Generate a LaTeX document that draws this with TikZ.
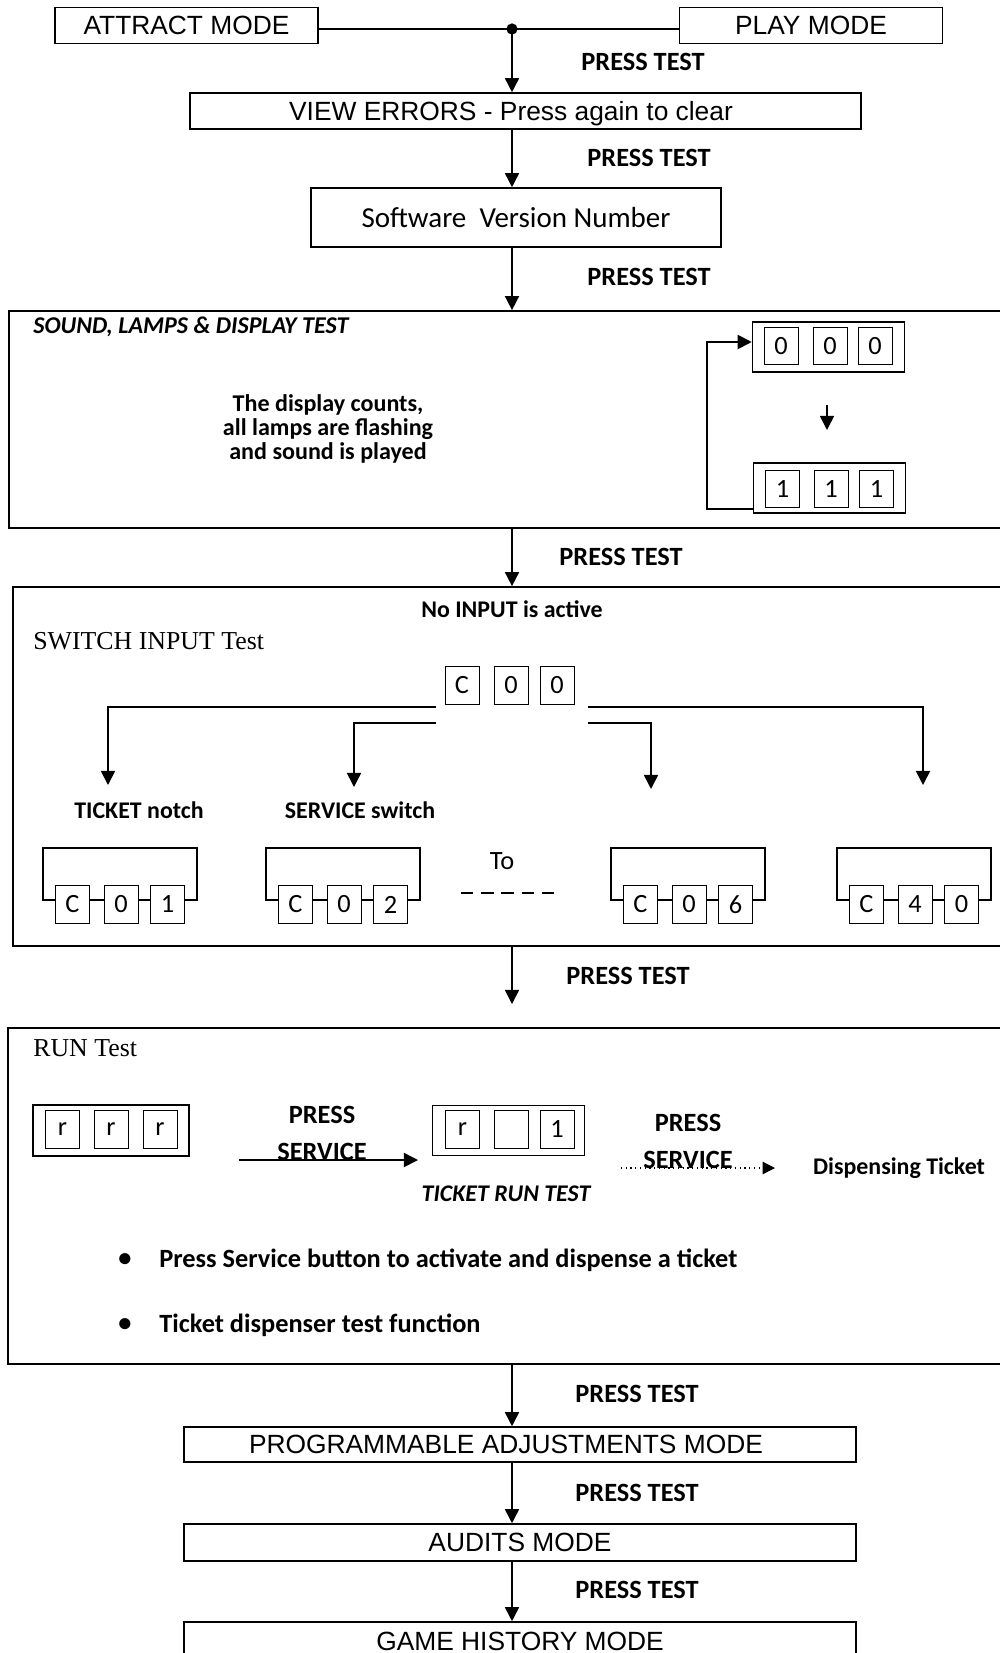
\documentclass[tikz,border=0pt]{standalone}
\usepackage{fontspec}
\setmainfont{Carlito}
\newfontfamily\arialfont{Liberation Sans}
\newfontfamily\serifttl{Liberation Serif}
\usetikzlibrary{arrows.meta, positioning}
\begin{document}
\begin{tikzpicture}[>={Triangle[length=8pt,width=8pt]}, x=0.02cm, y=-0.02cm,
modebox/.style={draw, line width=0.9pt, inner sep=0pt, font=\arialfont\fontsize{15}{18}\selectfont},
modetxt/.style={inner sep=0pt, font=\arialfont\fontsize{15}{18}\selectfont},
bigbox/.style={draw, line width=1pt, inner sep=0pt},
dispbox/.style={draw, line width=0.9pt, inner sep=0pt, minimum width=3.04cm, minimum height=1cm},
digit/.style={draw, fill=white, line width=0.5pt, inner sep=0pt, minimum width=0.68cm, minimum height=0.75cm, font=\fontsize{15}{18}\selectfont},
framebox/.style={draw, line width=0.8pt, inner sep=0pt, minimum width=3.08cm, minimum height=1.04cm},
presslbl/.style={inner sep=0pt, font=\bfseries\fontsize{15}{18}\selectfont},
smalllbl/.style={inner sep=0pt, font=\bfseries\fontsize{13.6}{16}\selectfont},
ttllbl/.style={anchor=west, inner sep=0pt, font=\serifttl\fontsize{14.7}{17}\selectfont},
flow/.style={->, line width=0.9pt}]
\useasboundingbox (0,0) rectangle (1000,1653);
\node[modebox, minimum width=5.26cm, minimum height=0.72cm] (attract) at (186.5,25.5) {ATTRACT MODE};
\node[modebox, minimum width=5.26cm, minimum height=0.72cm] (play) at (811,25.5) {PLAY MODE};
\coordinate (jn) at (512,29);
\draw[line width=0.9pt] (attract.east |- jn) -- (play.west |- jn);
\fill (jn) circle (3.2pt);
\node[modebox, minimum width=13.42cm, minimum height=0.72cm] (view) at (525.5,111) {};
\node[modetxt] (viewtxt) at (511,114) {VIEW ERRORS - Press again to clear};
\node[modebox, minimum width=8.2cm, minimum height=1.18cm, font=\fontsize{16.5}{19}\selectfont] (soft) at (516,217.5) {Software\ \ Version Number};
\draw[flow] (jn) -- (view.north -| jn);
\draw[flow] (view.south -| jn) -- (soft.north -| jn);
\node[presslbl] (pt1) at (643,62) {PRESS TEST};
\node[presslbl] (pt2) at (649,158) {PRESS TEST};
\node[presslbl] (pt3) at (649,277) {PRESS TEST};
\node[bigbox, minimum width=20.06cm, minimum height=4.34cm] (sound) at (510.5,419.5) {};
\draw[flow] (soft.south -| jn) -- (sound.north -| jn);
\node[anchor=west, inner sep=0pt, font=\bfseries\itshape\fontsize{13.7}{16}\selectfont] (soundttl) at (33,327) {SOUND, LAMPS \& DISPLAY TEST};
\node[smalllbl, align=center, font=\bfseries\fontsize{13.7}{13.8}\selectfont] (soundtxt) at (328,429) {The display counts,\\all lamps are flashing\\and sound is played};
\node[dispbox] (zero) at (828.5,347) {};
\foreach \x [count=\i] in {781,830,875} \node[digit] (zero\i) at (\x,346) {0};
\node[dispbox] (one) at (829.5,488) {};
\foreach \x [count=\i] in {782.5,831,876.5} \node[digit] (one\i) at (\x,489) {1};
\coordinate (cnta) at (827,405);
\coordinate (cntb) at (827,430);
\draw[flow] (cnta) -- (cntb);
\coordinate (loopx) at (707,342);
\draw[->, line width=1.1pt] ([yshift=0.1cm]one.south west) -| (loopx) -- (zero.west |- loopx);
\node[bigbox, minimum width=19.98cm, minimum height=7.18cm] (switch) at (512.5,766.5) {};
\draw[flow] (sound.south -| jn) -- (switch.north -| jn);
\node[presslbl] (pt4) at (621,557) {PRESS TEST};
\node[smalllbl] (noinput) at (512,609) {No INPUT is active};
\node[ttllbl] (swttl) at (33,641) {SWITCH INPUT Test};
\foreach \x/\d [count=\i] in {462/C,511/0,557/0} \node[digit] (cz\i) at (\x,685.5) {\d};
\coordinate (brl) at (436,707);
\coordinate (brr) at (588,707);
\coordinate (bil) at (436,723);
\coordinate (bir) at (588,723);
\coordinate (tk1) at (108,785);
\coordinate (tk2) at (354,787);
\coordinate (tk3) at (651,789);
\coordinate (tk4) at (923,785);
\draw[flow] (brl) -| (tk1);
\draw[flow] (bil) -| (tk2);
\draw[flow] (bir) -| (tk3);
\draw[flow] (brr) -| (tk4);
\node[smalllbl] (lticket) at (139,810) {TICKET notch};
\node[smalllbl] (lservice) at (360,810) {SERVICE switch};
\foreach \fx/\a/\b/\c [count=\k] in {43/C/0/1,266/C/0/2,611/C/0/6,837/C/4/0}{
\node[framebox] (fr\k) at (\fx+77,874) {};
\node[digit] (fr\k a) at (\fx+29.5,904.5) {\a};
\node[digit] (fr\k b) at (\fx+78,904.5) {\b};
\node[digit] (fr\k c) at (\fx+124.5,904.5) {\c};
}
\node[inner sep=0pt, font=\fontsize{15}{18}\selectfont] (to) at (502,861) {To};
\coordinate (dsha) at (461,893);
\coordinate (dshb) at (556,893);
\draw[line width=0.9pt, dash pattern=on 7pt off 4.5pt] (dsha) -- (dshb);
\coordinate (runin) at (512,1004);
\draw[flow] (switch.south -| jn) -- (runin);
\node[presslbl] (pt5) at (628,976) {PRESS TEST};
\node[bigbox, minimum width=20.08cm, minimum height=6.72cm] (run) at (510,1196) {};
\node[ttllbl] (runttl) at (33,1048) {RUN Test};
\node[dispbox, minimum width=3.12cm, minimum height=1.02cm] (rrr) at (111,1130.5) {};
\foreach \x [count=\i] in {62.5,111,160} \node[digit] (r\i) at (\x,1129.5) {r};
\node[dispbox] (rone) at (508.5,1130.5) {};
\foreach \x/\d [count=\i] in {462.5/r,511/{},557/1} \node[digit] (ro\i) at (\x,1129.5) {\d};
\coordinate (sva) at (239,1160);
\coordinate (svb) at (418,1160);
\draw[flow] (sva) -- (svb);
\node[presslbl] (ps1) at (322,1115) {PRESS};
\node[presslbl] (sv1) at (322,1152) {SERVICE};
\node[inner sep=0pt, font=\bfseries\itshape\fontsize{13.6}{16}\selectfont] (trt) at (506,1194) {TICKET RUN TEST};
\coordinate (dta) at (621,1168);
\coordinate (dtb) at (775,1168);
\draw[-{Triangle[length=7pt,width=7pt]}, dotted, line width=0.7pt] (dta) -- (dtb);
\node[presslbl] (ps2) at (688,1123) {PRESS};
\node[presslbl] (sv2) at (688,1160) {SERVICE};
\node[smalllbl] (disp) at (899,1168) {Dispensing Ticket};
\node[presslbl] (bl1) at (125,1260) {\textbullet};
\node[presslbl, anchor=west] (bt1) at (159,1260) {Press Service button to activate and dispense a ticket};
\node[presslbl] (bl2) at (125,1325) {\textbullet};
\node[presslbl, anchor=west] (bt2) at (159,1325) {Ticket dispenser test function};
\node[modebox, minimum width=13.44cm, minimum height=0.7cm] (prog) at (520,1444.5) {};
\node[modetxt] (progtxt) at (506,1444.5) {PROGRAMMABLE ADJUSTMENTS MODE};
\node[modebox, minimum width=13.44cm, minimum height=0.74cm] (audits) at (520,1542.5) {AUDITS MODE};
\node[modebox, minimum width=13.44cm, minimum height=0.76cm] (game) at (520,1641) {GAME HISTORY MODE};
\draw[flow] (run.south -| jn) -- (prog.north -| jn);
\draw[flow] (prog.south -| jn) -- (audits.north -| jn);
\draw[flow] (audits.south -| jn) -- (game.north -| jn);
\node[presslbl] (pt6) at (637,1394) {PRESS TEST};
\node[presslbl] (pt7) at (637,1493) {PRESS TEST};
\node[presslbl] (pt8) at (637,1590) {PRESS TEST};
\end{tikzpicture}
\end{document}
